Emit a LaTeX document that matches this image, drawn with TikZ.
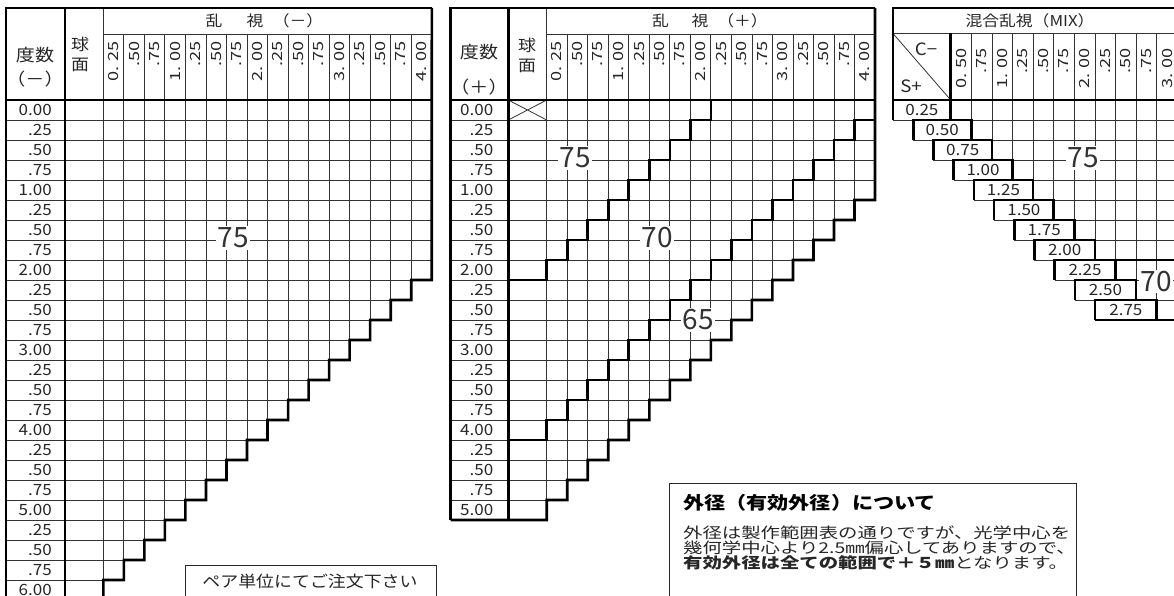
\documentclass[tikz,border=0pt]{standalone}
\usepackage{fontspec}
\setmainfont{Noto Sans CJK JP}
\newfontfamily\fdig{Noto Sans CJK JP}[FakeStretch=1.1]
\newfontfamily\fhd{Noto Sans CJK JP}[FakeStretch=1.3]
\newfontfamily\fjp{Noto Sans CJK JP}[FakeStretch=1.12]
\newfontfamily\ftitle{Noto Sans CJK JP}[FakeStretch=1.2]
\newfontfamily\fbody{Noto Sans CJK JP}[FakeStretch=1.3]
\newfontfamily\fbig{Noto Sans CJK JP}
\tikzset{
  gridln/.style={line width=0.8pt, draw=black!80},
  boldln/.style={line width=2.6pt, draw=black, line join=miter},
  rowlab/.style={font=\fdig\fontsize{15.5}{15.5}\selectfont, inner sep=0pt, text=black!85},
  colhd/.style={font=\fhd\fontsize{14}{14}\selectfont, inner sep=0pt, rotate=90, anchor=east, text=black!85},
  jptxt/.style={font=\fjp\fontsize{16}{16}\selectfont, inner sep=0pt, text=black!85},
  bignum/.style={font=\fbig\fontsize{28}{28}\selectfont, fill=white, inner sep=1.5pt, text=black!80},
  notetxt/.style={anchor=west, inner sep=0pt, text=black!85, font=\fbody\fontsize{14.9}{14.9}\selectfont}
}
\begin{document}
\begin{tikzpicture}[x=1pt,y=-1pt]
\useasboundingbox (0,0) rectangle (1174,596);
\fill[white] (0,0) rectangle (1174,596);
\clip (0,0) rectangle (1174,596);

%================ LEFT TABLE ================
\def\cw{20.53}
\foreach \i in {1,...,25}
  \draw[gridln] (6,{100+20*\i}) -- ({103.3+min(16,25-\i)*\cw},{100+20*\i});
\draw[gridln] (103.3,34) -- (431.8,34);
\foreach \j in {1,...,15}
  \draw[gridln] ({103.3+\j*\cw},34) -- ({103.3+\j*\cw},{100+20*(25-\j)});
\draw[gridln] (103.3,8) -- (103.3,600);
\draw[boldln] (6,600) -- (6,8) -- (431.8,8);
\draw[boldln] (65,8) -- (65,600);
\draw[boldln] (6,100) -- (431.8,100);
\draw[boldln] (431.8,8) \foreach \i in {0,...,24} { -- ({103.3+min(16,24-\i)*\cw},{100+20*\i}) -- ({103.3+min(16,24-\i)*\cw},{120+20*\i}) };

\node[jptxt, font=\fjp\fontsize{17}{17}\selectfont] (ldeg) at (35,55) {度数};
\node[jptxt, font=\fjp\fontsize{17}{17}\selectfont] (lsgn) at (35,79) {（－）};
\node[jptxt] (lkyu) at (80,44.5) {球};
\node[jptxt] (lmen) at (80,65) {面};
\node[jptxt, font=\fjp\fontsize{15}{15}\selectfont] (lran) at (214,21) {乱};
\node[jptxt, font=\fjp\fontsize{15}{15}\selectfont] (lshi) at (255,21) {視};
\node[jptxt, font=\fjp\fontsize{15}{15}\selectfont] (lpar) at (298,21) {（－）};
\foreach \j/\t in {0/{0. 25},1/.50,2/.75,3/{1. 00},4/.25,5/.50,6/.75,7/{2. 00},8/.25,9/.50,10/.75,11/{3. 00},12/.25,13/.50,14/.75,15/{4. 00}}
  \node[colhd] (lh\j) at ({103.3+\j*\cw+\cw/2},41) {\t};
\foreach \i/\t in {0/0.00,1/.25,2/.50,3/.75,4/1.00,5/.25,6/.50,7/.75,8/2.00,9/.25,10/.50,11/.75,12/3.00,13/.25,14/.50,15/.75,16/4.00,17/.25,18/.50,19/.75,20/5.00,21/.25,22/.50,23/.75,24/6.00}
  \node[rowlab, anchor=east] (lr\i) at (52,{110+20*\i}) {\t};
\node[bignum] (l75) at (233,238) {75};

\draw[line width=1pt, draw=black!85] (185,565) rectangle (436,610);
\node[jptxt] (pair) at (310,581) {ペア単位にてご注文下さい};

%================ MIDDLE TABLE ================
\def\mw{20.52}
\foreach \i in {1,...,20}
  \draw[gridln] (450.7,{100+20*\i}) -- ({546.7+min(16,21-\i)*\mw},{100+20*\i});
\draw[gridln] (546.7,34) -- (875,34);
\foreach \j in {1,...,15}
  \draw[gridln] ({546.7+\j*\mw},34) -- ({546.7+\j*\mw},{100+20*(21-\j)});
\draw[gridln] (546.7,8) -- (546.7,520);
\draw[gridln] (508.3,100) -- (546.7,120) (508.3,120) -- (546.7,100);
\draw[boldln] (450.7,520) -- (450.7,8) -- (875,8);
\draw[boldln] (508.3,8) -- (508.3,520);
\draw[boldln] (450.7,100) -- (875,100);
\draw[boldln] (875,8) \foreach \i in {0,...,20} { -- ({546.7+min(16,20-\i)*\mw},{100+20*\i}) -- ({546.7+min(16,20-\i)*\mw},{120+20*\i}) } -- (450.7,520);
% 75/70 boundary
\draw[boldln] ({546.7+8*\mw},100) \foreach \r in {0,...,7} { -- ({546.7+(8-\r)*\mw},{120+20*\r}) -- ({546.7+(7-\r)*\mw},{120+20*\r}) } -- (546.7,280) -- (508.3,280);
% 70/65 boundary
\draw[boldln] (875,120) \foreach \r in {1,...,16} { -- ({546.7+(16-\r)*\mw},{100+20*\r}) -- ({546.7+(16-\r)*\mw},{120+20*\r}) } -- (508.3,440);

\node[jptxt, font=\fjp\fontsize{17}{17}\selectfont] (mdeg) at (479,52) {度数};
\node[jptxt, font=\fjp\fontsize{17}{17}\selectfont] (msgn) at (479,87) {（＋）};
\node[jptxt] (mkyu) at (527,45) {球};
\node[jptxt] (mmen) at (527,66) {面};
\node[jptxt, font=\fjp\fontsize{15}{15}\selectfont] (mran) at (660.5,21) {乱};
\node[jptxt, font=\fjp\fontsize{15}{15}\selectfont] (mshi) at (700,21) {視};
\node[jptxt, font=\fjp\fontsize{15}{15}\selectfont] (mpar) at (742.5,21) {（＋）};
\foreach \j/\t in {0/{0. 25},1/.50,2/.75,3/{1. 00},4/.25,5/.50,6/.75,7/{2. 00},8/.25,9/.50,10/.75,11/{3. 00},12/.25,13/.50,14/.75,15/{4. 00}}
  \node[colhd] (mh\j) at ({546.7+\j*\mw+\mw/2},41) {\t};
\foreach \i/\t in {0/0.00,1/.25,2/.50,3/.75,4/1.00,5/.25,6/.50,7/.75,8/2.00,9/.25,10/.50,11/.75,12/3.00,13/.25,14/.50,15/.75,16/4.00,17/.25,18/.50,19/.75,20/5.00}
  \node[rowlab, anchor=east] (mr\i) at (493.5,{110+20*\i}) {\t};
\node[bignum] (m75) at (575,158) {75};
\node[bignum] (m70) at (657,238) {70};
\node[bignum] (m65) at (698,320) {65};

%================ RIGHT TABLE ================
\def\rw{20.6}
\def\bs{20.2}
\draw[gridln] (893,33.5) -- (1180,33.5);
\draw[gridln] (893,33.5) -- (950.7,100);
\foreach \i in {1,...,11}
  \draw[gridln] ({893+(\i-1)*\bs},{100+20*\i}) -- (1180,{100+20*\i});
\foreach \j in {1,...,12}
  \draw[gridln] ({950.7+\j*\rw},33.5) -- ({950.7+\j*\rw},{100+20*(min(\j,10)+1)});
\draw[boldln] (893,120) -- (893,8) -- (1180,8);
\draw[boldln] (893,100) -- (1180,100);
\draw[boldln] (950.7,33.5) -- (950.7,120);
\foreach \i in {0,...,10}
  \draw[boldln] ({893+\i*\bs},{120+20*\i}) -- ({893+\i*\bs},{100+20*\i}) -- ({950.7+\i*\rw},{100+20*\i}) -- ({950.7+\i*\rw},{120+20*\i});
\draw[boldln] ({893+8*\bs},260) -- (1180,260);
\draw[boldln] ({893+10*\bs},320) -- (1180,320);

\node[jptxt, font=\fjp\fontsize{15}{15}\selectfont] (rtitle) at (1030,21) {混合乱視（MIX）};
\node[rowlab, font=\fdig\fontsize{17}{17}\selectfont] (rc) at (926,49) {C−};
\node[rowlab, font=\fdig\fontsize{17}{17}\selectfont] (rs) at (911,86) {S+};
\foreach \j/\t in {0/{0. 50},1/.75,2/{1. 00},3/.25,4/.50,5/.75,6/{2. 00},7/.25,8/.50,9/.75,10/{3. 00}}
  \node[colhd] (rh\j) at ({950.7+\j*\rw+\rw/2},48) {\t};
\foreach \i/\t in {0/0.25,1/0.50,2/0.75,3/1.00,4/1.25,5/1.50,6/1.75,7/2.00,8/2.25,9/2.50,10/2.75}
  \node[rowlab] (rr\i) at ({(893+\i*\bs+950.7+\i*\rw)/2},{110+20*\i}) {\t};
\node[bignum] (r75) at (1083,158) {75};
\node[bignum] (r70) at (1156,281.5) {70};

%================ NOTE BOX ================
\draw[line width=1.2pt, draw=black!85] (669.3,483.3) rectangle (1076.7,610);
\node[anchor=west, inner sep=0pt, font=\ftitle\bfseries\fontsize{17.6}{17.6}\selectfont] (ntitle) at (683,503) {外径（有効外径）について};
\node[notetxt] (nl1) at (683,533) {外径は製作範囲表の通りですが、光学中心を};
\node[notetxt] (nl2) at (683,548) {幾何学中心より2.5㎜偏心してありますので、};
\node[notetxt] (nl3) at (683,562.5) {{\bfseries 有効外径は全ての範囲で＋５㎜}となります。};
\end{tikzpicture}
\end{document}
